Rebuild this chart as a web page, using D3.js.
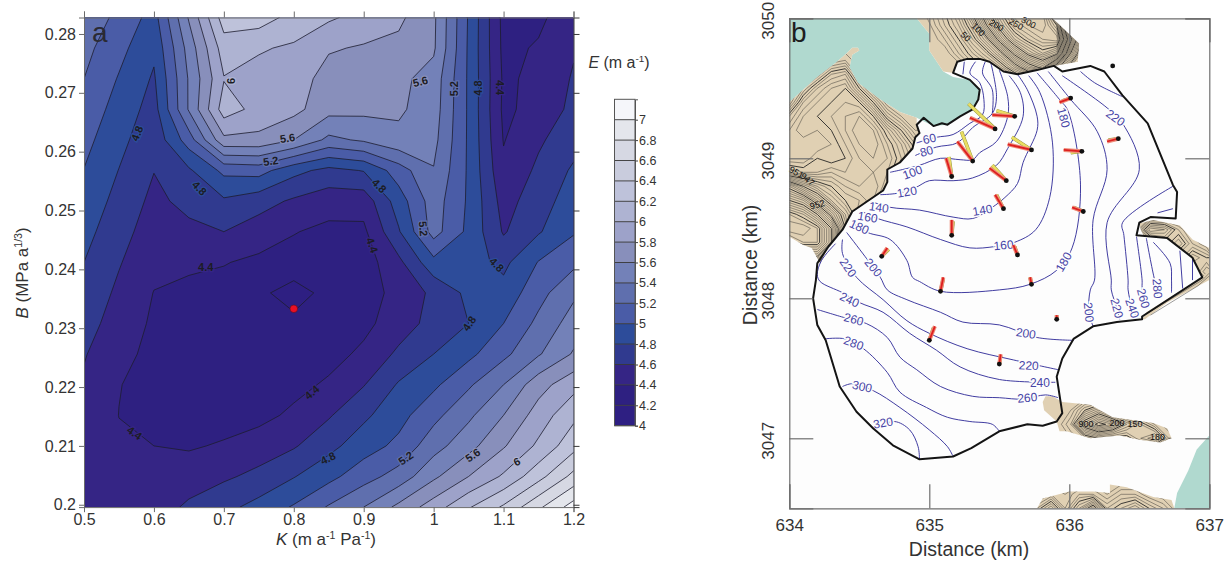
<!DOCTYPE html>
<html>
<head>
<meta charset="utf-8">
<style>
body { margin: 0; background: #fff; }
text { font-family: "Liberation Sans", Arial, sans-serif; }
</style>
<script src="https://cdn.jsdelivr.net/npm/d3@7"></script>
</head>
<body>
<div id="figure"></div>
<script>
'use strict';

// ---- panel a data ----
let kValues = [0.5, 0.55, 0.6, 0.65, 0.7, 0.75, 0.8, 0.85, 0.9, 0.95, 1, 1.05, 1.1, 1.15, 1.2];
let bValues = [0.2828, 0.2776, 0.2724, 0.2672, 0.262, 0.2568, 0.2516, 0.2464, 0.2412, 0.236, 0.2308, 0.2256, 0.2204, 0.2152, 0.21, 0.2048, 0.1996];
// one list per K, top B to bottom B
let misfitByK = [
    [5.33, 5.26, 5.2, 5.13, 5.06, 4.995, 4.93, 4.865, 4.8, 4.74, 4.68, 4.615, 4.57, 4.53, 4.5, 4.48, 4.46],
    [5.15, 5.06, 4.985, 4.92, 4.86, 4.795, 4.735, 4.675, 4.615, 4.56, 4.51, 4.455, 4.405, 4.398, 4.42, 4.44, 4.46],
    [4.92, 4.84, 4.775, 4.72, 4.66, 4.605, 4.55, 4.5, 4.45, 4.395, 4.37, 4.35, 4.35, 4.37, 4.4, 4.45, 4.5],
    [5.62, 5.48, 5.42, 5.42, 5.1, 4.77, 4.66, 4.55, 4.43, 4.36, 4.32, 4.29, 4.28, 4.3, 4.38, 4.5, 4.636],
    [6.3, 6.1, 5.99, 6.1, 5.75, 5.05, 4.77, 4.6, 4.41, 4.33, 4.28, 4.26, 4.27, 4.32, 4.42, 4.57, 4.74],
    [6.3, 6.02, 5.93, 5.93, 5.75, 5.08, 4.68, 4.5, 4.36, 4.24, 4.27, 4.25, 4.27, 4.34, 4.5, 4.65, 4.87],
    [6.13, 5.97, 5.9, 5.86, 5.6, 4.86, 4.57, 4.41, 4.32, 4.12, 4.25, 4.28, 4.34, 4.44, 4.58, 4.79, 5.02],
    [6.03, 5.82, 5.72, 5.67, 5.35, 4.74, 4.49, 4.35, 4.3, 4.26, 4.28, 4.33, 4.43, 4.58, 4.74, 4.94, 5.22],
    [5.93, 5.78, 5.72, 5.65, 5.43, 4.81, 4.48, 4.36, 4.3, 4.3, 4.35, 4.44, 4.59, 4.76, 4.91, 5.12, 5.4],
    [5.84, 5.75, 5.65, 5.63, 5.55, 5.1, 4.9, 4.78, 4.55, 4.47, 4.5, 4.64, 4.82, 4.93, 5.05, 5.28, 5.65],
    [5.64, 5.63, 5.52, 5.5, 5.46, 5.39, 5.3, 5.28, 4.94, 4.64, 4.67, 4.8, 4.96, 5.14, 5.32, 5.56, 5.9],
    [4.98, 4.97, 4.97, 4.97, 4.97, 4.97, 4.97, 4.95, 4.88, 4.85, 4.8, 4.95, 5.17, 5.36, 5.53, 5.8, 6.18],
    [4.34, 4.35, 4.37, 4.36, 4.39, 4.44, 4.52, 4.58, 4.75, 4.87, 5, 5.15, 5.4, 5.6, 5.78, 6.03, 6.43],
    [4.36, 4.42, 4.44, 4.47, 4.57, 4.64, 4.71, 4.78, 5.01, 5.13, 5.25, 5.38, 5.72, 5.89, 6.04, 6.33, 6.76],
    [4.52, 4.58, 4.62, 4.65, 4.72, 4.83, 4.9, 4.98, 5.15, 5.36, 5.49, 5.62, 5.93, 6.15, 6.33, 6.66, 7.09]
];
let misfitLevels = [4, 4.2, 4.4, 4.6, 4.8, 5, 5.2, 5.4, 5.6, 5.8, 6, 6.2, 6.4, 6.6, 6.8, 7];
let bandColors = ['#2e1f82', '#2e2081', '#352585', '#303a8f', '#2d4c9a', '#4a5ca7', '#5f6fae', '#7381b8',
    '#888fbb', '#9da2c9', '#aeb3d2', '#bec2da', '#c9ccdd', '#d6d8e3', '#e4e6ec', '#f5f6fa'];
let kTicks = [0.5, 0.6, 0.7, 0.8, 0.9, 1, 1.1, 1.2];
let bTicks = [0.2, 0.21, 0.22, 0.23, 0.24, 0.25, 0.26, 0.27, 0.28];
let bestFit = { k: 0.8, b: 0.2333 };
// [K, B, level, angle]
let misfitLabels = [
    [0.576, 0.2631, 4.8, -68], [0.665, 0.2538, 4.8, 45], [0.71, 0.2720, 6, -90], [0.791, 0.2623, 5.6, -8],
    [0.767, 0.2584, 5.2, -8], [0.981, 0.2719, 5.6, -15], [1.03, 0.2707, 5.2, -90], [1.063, 0.2708, 4.8, -90],
    [1.095, 0.2709, 4.4, 90], [0.922, 0.2542, 4.8, 45], [0.985, 0.2469, 5.2, 85], [0.912, 0.2441, 4.4, 70],
    [1.09, 0.2408, 4.8, 45], [0.674, 0.2403, 4.4, 0], [0.572, 0.2122, 4.4, 35], [0.826, 0.2191, 4.4, -40],
    [0.849, 0.2079, 4.8, -25], [1.051, 0.2308, 4.8, -55], [0.96, 0.2079, 5.2, -35], [1.056, 0.2084, 5.6, -35],
    [1.119, 0.2073, 6, -25]
];

// ---- panel b data: km east of 634, km north of 3047 ----
let eastTicks = [634, 635, 636, 637];
let northTicks = [3047, 3048, 3049, 3050];
let glacierOutline = [[1.17, 2.61], [1.2, 2.69], [1.27, 2.71], [1.36, 2.71], [1.43, 2.69], [1.53, 2.62], [1.63, 2.6], [1.77, 2.63], [1.89, 2.66], [1.95, 2.62], [2.15, 2.66], [2.25, 2.62], [2.38, 2.45], [2.56, 2.25], [2.74, 1.81], [2.77, 1.76], [2.76, 1.57], [2.58, 1.58], [2.5, 1.54], [2.48, 1.45], [2.7, 1.43], [2.88, 1.29], [2.95, 1.15], [2.52, 0.87], [2.52, 0.85], [2.34, 0.83], [2.17, 0.8], [2.03, 0.71], [1.95, 0.57], [1.91, 0.44], [1.95, 0.18], [1.91, 0.12], [1.81, 0.09], [1.7, 0.1], [1.5, 0.05], [1.3, -0.07], [1.17, -0.13], [0.93, -0.15], [0.74, -0.05], [0.6, 0.07], [0.48, 0.19], [0.36, 0.37], [0.26, 0.7], [0.2, 0.81], [0.17, 1], [0.19, 1.13], [0.2, 1.25], [0.28, 1.37], [0.38, 1.49], [0.45, 1.62], [0.67, 1.77], [0.7, 1.83], [0.7, 1.92], [0.79, 1.97], [0.88, 2.07], [0.9, 2.15], [0.93, 2.18], [0.91, 2.24], [0.96, 2.29], [1.03, 2.23], [1.09, 2.25], [1.13, 2.24], [1.22, 2.3], [1.31, 2.35], [1.35, 2.42], [1.36, 2.49], [1.29, 2.56]];
let waterNorth = [[0, 2.4], [0.2, 2.58], [0.33, 2.68], [0.41, 2.75], [0.45, 2.79], [0.49, 2.79], [0.5, 2.77], [0.45, 2.74], [0.43, 2.65], [0.49, 2.54], [0.65, 2.42], [0.79, 2.33], [0.91, 2.29], [0.97, 2.26], [1.03, 2.23], [1.13, 2.24], [1.22, 2.3], [1.31, 2.35], [1.35, 2.42], [1.36, 2.49], [1.29, 2.56], [1.17, 2.58], [1.1, 2.62], [1, 2.77], [1, 2.89], [0.91, 3], [0, 3]];
let waterSouth = [[3, 0.02], [2.91, -0.08], [2.85, -0.23], [2.77, -0.39], [2.75, -0.5], [3, -0.5]];
let rockWest = [[0, 2.4], [0.2, 2.58], [0.33, 2.68], [0.41, 2.75], [0.45, 2.79], [0.49, 2.79], [0.5, 2.77], [0.45, 2.74], [0.43, 2.65], [0.49, 2.54], [0.65, 2.42], [0.79, 2.33], [0.91, 2.29], [0.91, 2.24], [0.93, 2.18], [0.9, 2.15], [0.88, 2.07], [0.79, 1.97], [0.7, 1.92], [0.7, 1.83], [0.67, 1.77], [0.45, 1.62], [0.38, 1.49], [0.28, 1.37], [0.22, 1.25], [0.16, 1.36], [0.1, 1.38], [0, 1.44]];
let rockNorth = [[0.91, 3], [1, 2.89], [1, 2.77], [1.1, 2.62], [1.17, 2.61], [1.2, 2.69], [1.27, 2.71], [1.36, 2.71], [1.43, 2.69], [1.53, 2.62], [1.63, 2.6], [1.77, 2.63], [1.89, 2.66], [2.06, 2.69], [2.07, 2.82], [1.88, 3]];
let rockEast = [[2.5, 1.54], [2.52, 1.54], [2.6, 1.56], [2.79, 1.52], [2.88, 1.42], [3, 1.36], [3, 1.15], [2.95, 1.15], [2.88, 1.29], [2.7, 1.43], [2.53, 1.45], [2.51, 1.49]];
let rockStrip = [[2.52, 0.85], [2.55, 0.9], [2.95, 1.15], [3, 1.2], [3, 1.13], [2.7, 0.97], [2.54, 0.85]];
let rockIsland = [[1.81, 0.26], [1.83, 0.3], [1.88, 0.3], [1.95, 0.26], [2.15, 0.24], [2.31, 0.15], [2.6, 0.11], [2.7, 0.07], [2.73, 0], [2.65, -0.03], [2.5, -0.01], [2.36, 0.02], [2.15, 0], [1.98, 0.05], [1.93, 0.05], [1.91, 0.12], [1.82, 0.2]];
let rockSouth = [[1.77, -0.5], [1.81, -0.43], [2, -0.38], [2.17, -0.38], [2.29, -0.39], [2.29, -0.33], [2.41, -0.35], [2.6, -0.42], [2.73, -0.44], [2.75, -0.5]];

// rough relief on a 0.1 km grid, read off the contour spacing
let reliefWest = { east: 0, north: 2.8, rows: [
    [0, 0, 0, 0, 0, 0, 0, 0, 0, 0],
    [0, 0, 0, 1, 2, 0, 0, 0, 0, 0],
    [0, 0, 2, 6, 7, 1, 0, 0, 0, 0],
    [0, 3, 7, 9, 10, 5, 0, 0, 0, 0],
    [1, 7, 9, 10, 11, 10, 5, 0, 0, 0],
    [6, 9, 10, 11, 12, 13, 10, 4, 1, 0],
    [8, 10, 9, 10, 12, 14, 13, 9, 5, 1],
    [9, 8, 8, 9, 11, 13, 14, 11, 8, 4],
    [8, 8, 10, 9, 10, 12, 13, 12, 9, 6],
    [12, 11, 11, 12, 11, 11, 12, 11, 8, 3],
    [24, 20, 17, 15, 13, 12, 13, 10, 6, 2],
    [30, 28, 23, 18, 15, 14, 12, 8, 3, 0],
    [36, 34, 30, 24, 18, 13, 9, 3, 0, 0],
    [38, 38, 36, 30, 20, 11, 4, 0, 0, 0],
    [34, 36, 36, 30, 18, 6, 0, 0, 0, 0],
    [25, 30, 30, 22, 8, 0, 0, 0, 0, 0],
    [10, 20, 20, 10, 0, 0, 0, 0, 0, 0]
] };
let reliefNorth = { east: 0.91, north: 3.05, rows: [
    [0, 2, 5, 9, 16, 24, 30, 34, 36, 34, 20, 4, 0],
    [0, 1, 4, 7, 12, 20, 27, 32, 34, 35, 30, 10, 0],
    [0, 0, 2, 5, 9, 14, 22, 28, 31, 33, 34, 16, 2],
    [0, 0, 0, 3, 6, 9, 14, 21, 26, 29, 26, 10, 0],
    [0, 0, 0, 0, 3, 5, 8, 13, 18, 21, 12, 3, 0],
    [0, 0, 0, 0, 0, 0, 2, 5, 8, 8, 3, 0, 0]
] };
let reliefEast = { east: 2.48, north: 1.59, rows: [
    [0, 0, 0, 0, 0, 0],
    [0, 9, 8, 4, 1, 0],
    [0, 1, 4, 7, 3, 1],
    [0, 0, 0, 3, 7, 5],
    [0, 0, 0, 0, 4, 8],
    [0, 0, 0, 0, 0, 4]
] };
let reliefIsland = { east: 1.81, north: 0.3, rows: [
    [0, 0, 0, 0, 0, 0, 0, 0, 0, 0],
    [0, 0, 1, 5, 8, 4, 1, 0, 0, 0],
    [0, 0, 3, 12, 16, 14, 9, 6, 3, 1],
    [0, 0, 1, 3, 5, 4, 4, 7, 9, 3],
    [0, 0, 0, 0, 0, 0, 0, 0, 0, 0]
] };
let reliefSouth = { east: 1.77, north: -0.3, rows: [
    [0, 0, 0, 0, 0, 0, 0, 0, 0, 0, 0],
    [0, 2, 1, 3, 3, 1, 3, 3, 1, 0, 0],
    [4, 8, 2, 7, 12, 4, 6, 8, 5, 3, 0],
    [6, 10, 3, 9, 14, 5, 8, 10, 7, 4, 0]
] };
let stripLines = [
    [[2.55, 0.89], [2.95, 1.13], [3, 1.18]],
    [[2.58, 0.88], [2.92, 1.09], [3, 1.16]]
];

let iceContours = [
    [[1.24, 2.6], [1.25, 2.69]],
    [[0.91, 2.11], [1.05, 2.15], [1.17, 2.17], [1.29, 2.25], [1.38, 2.31], [1.39, 2.42], [1.36, 2.54], [1.29, 2.61], [1.33, 2.69]],
    [[1.4, 2.69], [1.38, 2.61], [1.45, 2.49], [1.45, 2.32]],
    [[0.9, 2.02], [1.05, 2.08], [1.2, 2.11], [1.31, 2.22], [1.45, 2.32], [1.48, 2.44], [1.44, 2.68]],
    [[0.72, 1.9], [0.81, 1.92], [0.93, 1.95], [1.08, 2], [1.22, 1.99], [1.31, 1.99], [1.36, 2.04], [1.48, 2.12], [1.56, 2.3], [1.56, 2.44], [1.5, 2.63]],
    [[0.65, 1.74], [0.77, 1.75], [0.9, 1.79], [1, 1.84], [1.17, 1.84], [1.31, 1.86], [1.48, 1.95], [1.56, 2.07], [1.67, 2.3], [1.65, 2.47], [1.57, 2.59]],
    [[0.59, 1.69], [0.72, 1.65], [0.93, 1.63], [1.17, 1.58], [1.31, 1.57], [1.45, 1.65], [1.54, 1.72], [1.63, 1.82], [1.67, 1.97], [1.77, 2.2], [1.77, 2.3], [1.7, 2.49], [1.63, 2.6]],
    [[0.52, 1.62], [0.63, 1.57], [0.84, 1.51], [1.08, 1.42], [1.29, 1.36], [1.47, 1.37], [1.61, 1.4], [1.76, 1.49], [1.86, 1.72], [1.88, 2.11], [1.79, 2.47], [1.71, 2.59]],
    [[0.45, 1.54], [0.56, 1.47], [0.72, 1.42], [0.84, 1.27], [0.88, 1.15], [0.93, 1.12], [1.08, 1.05], [1.5, 1.06], [1.72, 1.1], [1.91, 1.2], [2.02, 1.36], [2.08, 1.81], [1.99, 2.34], [1.93, 2.42], [1.77, 2.61]],
    [[0.41, 1.47], [0.54, 1.3], [0.65, 1.15], [0.7, 1.06], [0.84, 0.99], [1.08, 0.9], [1.24, 0.83], [1.5, 0.81], [1.77, 0.72], [2.03, 0.7]],
    [[1.85, 2.62], [2.01, 2.42], [2.2, 2.19], [2.27, 1.92], [2.17, 1.56], [2.18, 1.13], [2.15, 1.06], [2.14, 0.9], [2.17, 0.8]],
    [[0.38, 1.42], [0.38, 1.32], [0.48, 1.15], [0.67, 0.99], [0.84, 0.84], [1, 0.75], [1.27, 0.64], [1.6, 0.56], [1.92, 0.49]],
    [[1.95, 2.59], [2.27, 2.36], [2.38, 2.25], [2.5, 1.92], [2.27, 1.54], [2.3, 1.13], [2.3, 1.06], [2.34, 0.93], [2.36, 0.85]],
    [[0.33, 1.39], [0.23, 1.27], [0.2, 1.17], [0.22, 1.12], [0.38, 1.04], [0.5, 0.97], [0.67, 0.9], [0.86, 0.75], [1.05, 0.63], [1.22, 0.51], [1.5, 0.42], [1.9, 0.4]],
    [[2.74, 1.8], [2.38, 1.54], [2.39, 1.45], [2.42, 1.13], [2.42, 1.06], [2.45, 0.93], [2.48, 0.87]],
    [[2.08, 2.62], [2.18, 2.54], [2.38, 2.44]],
    [[0.2, 0.92], [0.4, 0.86], [0.55, 0.82], [0.7, 0.72], [0.79, 0.58], [0.91, 0.49], [1.08, 0.37], [1.31, 0.3], [1.5, 0.29], [1.67, 0.28], [1.83, 0.31], [1.92, 0.29]],
    [[2.74, 1.64], [2.63, 1.61]],
    [[2.48, 1.44], [2.52, 1.13], [2.52, 1.08], [2.53, 1], [2.56, 0.95]],
    [[0.25, 0.71], [0.4, 0.71], [0.53, 0.64], [0.7, 0.47], [0.79, 0.33], [0.98, 0.22], [1.13, 0.15], [1.29, 0.12], [1.45, 0.1], [1.5, 0.05]],
    [[2.55, 1.43], [2.61, 1.13], [2.63, 1.07], [2.63, 1.02]],
    [[2.6, 1.4], [2.72, 1.25], [2.73, 1.13], [2.73, 1.04]],
    [[2.79, 1.34], [2.81, 1.07]],
    [[2.88, 1.29], [2.88, 1.13]],
    [[0.38, 0.37], [0.45, 0.39], [0.6, 0.34], [0.79, 0.22], [1, 0.06], [1.13, -0.06], [1.17, -0.13]],
    [[0.61, 0.07], [0.75, 0.12], [0.86, 0.06], [0.92, -0.06], [0.93, -0.15]]
];
// [east, north, label, angle]
let iceLabels = [
    [1, 2.14, '60', -12], [0.98, 2.05, '80', -15], [0.88, 1.9, '100', -20], [0.84, 1.76, '120', -10],
    [0.64, 1.65, '140', 8], [0.56, 1.58, '160', 10], [0.5, 1.51, '180', 25], [0.6, 1.22, '200', 50],
    [0.42, 1.22, '220', 55], [0.43, 0.99, '240', 25], [0.46, 0.85, '260', 15], [0.46, 0.68, '280', 20],
    [0.52, 0.37, '300', 12], [0.67, 0.11, '320', -10], [1.38, 1.63, '140', -10], [1.53, 1.38, '160', -5],
    [1.96, 2.29, '180', 75], [2.33, 2.29, '220', 35], [1.96, 1.26, '180', -60], [2.14, 0.9, '200', 85],
    [2.34, 0.93, '220', 75], [2.45, 0.93, '240', 70], [2.53, 1, '260', 75], [2.63, 1.07, '280', 85],
    [1.69, 0.75, '200', 8], [1.71, 0.52, '220', 3], [1.79, 0.4, '240', 0], [1.7, 0.29, '260', -5]
];
let rockLabels = [
    [0.05, 1.9, '951', 30], [0.13, 1.85, '947', 40], [0.2, 1.67, '952', -15],
    [1.26, 2.87, '50', 45], [1.35, 2.92, '100', 45], [1.48, 2.95, '200', 30], [1.62, 2.96, '250', 30], [1.71, 2.97, '300', 30],
    [2.12, 0.1, '900', 0], [2.34, 0.11, '200', 0], [2.47, 0.1, '150', 0], [2.63, 0.01, '180', 0]
];
// station position, then the tips of the modelled and the measured velocity
let stationEast = [1.47, 1.31, 1.16, 1.16, 0.66, 1.61, 1.73, 1.55, 1.53, 1.63, 2.01, 2.35, 2.09, 2.1, 2.31, 1.08, 1, 1.5, 1.73, 1.91];
let stationNorth = [2.21, 1.98, 1.87, 1.45, 1.3, 2.3, 2.06, 1.84, 1.64, 1.31, 2.43, 2.14, 2.05, 1.62, 2.66, 1.05, 0.7, 0.53, 1.1, 0.85];
let modelTipEast = [1.29, 1.2, 1.12, 1.16, 0.7, 1.45, 1.56, 1.43, 1.47, 1.6, 1.93, 2.27, 1.96, 2.02, 2.31, 1.1, 1.04, 1.51, 1.72, 1.91];
let modelTipNorth = [2.29, 2.12, 2, 1.56, 1.36, 2.31, 2.1, 1.93, 1.74, 1.38, 2.4, 2.12, 2.06, 1.65, 2.66, 1.15, 0.8, 0.6, 1.15, 0.88];
let measuredTipEast = [1.28, 1.23, 1.14, 1.17, 0.71, 1.48, 1.59, 1.45, 1.48, 1.61, 1.95, 2.28, 2.01, 2.03, 2.31, 1.1, 1.03, 1.51, 1.72, 1.91];
let measuredTipNorth = [2.39, 2.19, 2.01, 1.55, 1.35, 2.34, 2.15, 1.95, 1.74, 1.37, 2.41, 2.13, 2.04, 1.65, 2.66, 1.14, 0.79, 0.59, 1.15, 0.88];

// ---- figure ----
let svg = d3.select('#figure').append('svg')
    .attr('width', 1227)
    .attr('height', 562)
    .style('display', 'block');
let defs = svg.append('defs');

let inkGrey = '#333';

function styleAxis(g, color, width) {
    g.selectAll('.domain').attr('stroke', color).attr('stroke-width', width);
    g.selectAll('.tick line').attr('stroke', color).attr('stroke-width', width);
    g.selectAll('text').attr('fill', inkGrey).style('font-family', '"Liberation Sans", Arial, sans-serif');
}

// rich label with optional superscripts: [text, 'i' | 'sup' | '']
function richText(parent, x, y, size, parts, rotate) {
    let t = parent.append('text')
        .attr('transform', `translate(${x},${y})` + (rotate ? ` rotate(${rotate})` : ''))
        .attr('text-anchor', 'middle')
        .attr('fill', inkGrey)
        .attr('font-size', size);
    parts.forEach(p => {
        let s = t.append('tspan').text(p[0]);
        if (p[1] === 'i') s.attr('font-style', 'italic');
        if (p[1] === 'sup') s.attr('font-size', size * 0.62).attr('dy', -size * 0.38);
        if (p[1] === 'after') s.attr('dy', size * 0.38);
    });
    return t;
}

// ---- panel a ----
let xK = d3.scaleLinear().domain([0.5, 1.2]).range([84, 573.5]);
let yB = d3.scaleLinear().domain([bValues[16], bValues[0]]).range([507.1, 17.5]);
let bandColor = d3.scaleThreshold().domain(misfitLevels.slice(1).concat([7.2])).range(bandColors);

defs.append('clipPath').attr('id', 'clip-a').append('rect')
    .attr('x', xK.range()[0]).attr('y', yB.range()[1])
    .attr('width', xK.range()[1] - xK.range()[0])
    .attr('height', yB.range()[0] - yB.range()[1]);

let panelA = svg.append('g');
let stepK = kValues[1] - kValues[0];
let stepB = bValues[0] - bValues[1];
let contourPathA = d3.geoPath(d3.geoTransform({
    point(cx, cy) {
        this.stream.point(xK(kValues[0] + (cx - 0.5) * stepK), yB(bValues[0] - (cy - 0.5) * stepB));
    }
}));
let misfitGrid = d3.contours()
    .size([kValues.length, bValues.length])
    .thresholds(misfitLevels)(d3.transpose(misfitByK).flat());

panelA.append('g').attr('clip-path', 'url(#clip-a)')
    .selectAll('path')
    .data(misfitGrid)
    .join('path')
    .attr('d', contourPathA)
    .attr('fill', d => bandColor(d.value))
    .attr('stroke', d => d.value === misfitLevels[0] ? 'none' : '#1d1d2e')
    .attr('stroke-width', 0.8);

panelA.append('g')
    .selectAll('text')
    .data(misfitLabels)
    .join('text')
    .attr('transform', d => `translate(${xK(d[0])},${yB(d[1])}) rotate(${d[3]})`)
    .attr('text-anchor', 'middle')
    .attr('dy', '0.35em')
    .attr('font-size', 11)
    .attr('font-weight', 'bold')
    .attr('fill', '#1c1c24')
    .attr('stroke', d => bandColor(d[2] + 0.01))
    .attr('stroke-width', 2.5)
    .attr('paint-order', 'stroke')
    .text(d => d[2]);

panelA.append('circle')
    .attr('cx', xK(bestFit.k))
    .attr('cy', yB(bestFit.b))
    .attr('r', 3.8)
    .attr('fill', '#ea0f24')
    .attr('stroke', '#5a1020')
    .attr('stroke-width', 0.6);

let axisColorA = '#6a6a6a';
panelA.append('g').attr('transform', `translate(0,${yB.range()[0]})`)
    .call(d3.axisBottom(xK).tickValues(kTicks).tickFormat(d3.format('~g')).tickSize(5).tickPadding(2))
    .attr('font-size', 16).call(styleAxis, axisColorA, 1);
panelA.append('g').attr('transform', `translate(${xK.range()[0]},0)`)
    .call(d3.axisLeft(yB).tickValues(bTicks).tickFormat(d3.format('~g')).tickSize(5).tickPadding(3))
    .attr('font-size', 16).call(styleAxis, axisColorA, 1);
panelA.append('g').attr('transform', `translate(0,${yB.range()[1]})`)
    .call(d3.axisTop(xK).tickValues(kTicks).tickFormat('').tickSize(6))
    .call(styleAxis, axisColorA, 1);
panelA.append('g').attr('transform', `translate(${xK.range()[1]},0)`)
    .call(d3.axisRight(yB).tickValues(bTicks).tickFormat('').tickSize(6))
    .call(styleAxis, '#3a3a3a', 1);

richText(panelA, 326, 545, 17, [['K', 'i'], [' (m a', ''], ['-1', 'sup'], [' Pa', 'after'], ['-1', 'sup'], [')', 'after']]);
richText(panelA, 28, 273, 17, [['B', 'i'], [' (MPa a', ''], ['1/3', 'sup'], [')', 'after']], -90);
richText(panelA, 619, 68, 16, [['E', 'i'], [' (m a', ''], ['-1', 'sup'], [')', 'after']]);
panelA.append('text').attr('x', 92).attr('y', 42).attr('font-size', 28).attr('fill', '#2a2a33').text('a');

// colour bar
let yBar = d3.scaleLinear().domain([4, 7.2]).range([425.7, 99.3]);
let legend = panelA.append('g').attr('transform', 'translate(614.5,0)');
legend.selectAll('rect')
    .data(misfitLevels)
    .join('rect')
    .attr('x', 0)
    .attr('width', 20.5)
    .attr('y', (d, i) => yBar(d + 0.2))
    .attr('height', (d, i) => yBar(d) - yBar(d + 0.2))
    .attr('fill', (d, i) => bandColors[i]);
let legendAxis = d3.axisRight(yBar).tickValues(misfitLevels).tickFormat(d3.format('~g')).tickSize(3).tickPadding(1);
let legendAxisG = legend.append('g').attr('transform', 'translate(20.5,0)')
    .call(legendAxis)
    .attr('font-size', 12.5)
    .call(styleAxis, '#444', 1);
legendAxisG.select('.domain').attr('stroke', '#555');
legend.selectAll('line.band')
    .data(misfitLevels)
    .join('line')
    .classed('band', true)
    .attr('x1', 0).attr('x2', 20.5)
    .attr('y1', d => yBar(d)).attr('y2', d => yBar(d))
    .attr('stroke', '#333')
    .attr('stroke-width', 0.9);
legend.append('rect')
    .attr('x', 0).attr('y', yBar(7.2))
    .attr('width', 20.5).attr('height', yBar(4) - yBar(7.2))
    .attr('fill', 'none').attr('stroke', '#555').attr('stroke-width', 1);

// ---- panel b ----
let xEast = d3.scaleLinear().domain([634, 637]).range([789.3, 1209.3]);
let yNorth = d3.scaleLinear().domain([3046.5, 3050]).range([508.3, 18.3]);
let panelB = svg.append('g');
let mapX = e => xEast(634 + e);
let mapY = n => yNorth(3047 + n);
let mapLine = d3.line().x(d => mapX(d[0])).y(d => mapY(d[1]));
let mapCurve = d3.line().x(d => mapX(d[0])).y(d => mapY(d[1])).curve(d3.curveCatmullRom.alpha(0.5));
let closedCurve = d3.line().x(d => mapX(d[0])).y(d => mapY(d[1])).curve(d3.curveLinearClosed);

panelB.append('rect')
    .attr('x', xEast.range()[0]).attr('y', yNorth.range()[1])
    .attr('width', xEast.range()[1] - xEast.range()[0])
    .attr('height', yNorth.range()[0] - yNorth.range()[1])
    .attr('fill', '#fdfdfd');

panelB.selectAll('path.water')
    .data([waterNorth, waterSouth])
    .join('path')
    .classed('water', true)
    .attr('d', closedCurve)
    .attr('fill', '#b0d9cf');

let rocks = [
    { outline: rockWest, relief: reliefWest },
    { outline: rockNorth, relief: reliefNorth },
    { outline: rockEast, relief: reliefEast },
    { outline: rockIsland, relief: reliefIsland },
    { outline: rockSouth, relief: reliefSouth }
];
rocks.forEach((rock, i) => {
    let clipId = `rock-${i}`;
    defs.append('clipPath').attr('id', clipId).append('path').attr('d', closedCurve(rock.outline));
    panelB.append('path').attr('d', closedCurve(rock.outline)).attr('fill', '#e0d0b3');

    let rows = rock.relief.rows;
    let levels = d3.range(1, d3.max(rows.flat()) + 1);
    let reliefPath = d3.geoPath(d3.geoTransform({
        point(cx, cy) {
            this.stream.point(mapX(rock.relief.east + (cx - 0.5) * 0.1), mapY(rock.relief.north - (cy - 0.5) * 0.1));
        }
    }));
    panelB.append('g').attr('clip-path', `url(#${clipId})`)
        .selectAll('path')
        .data(d3.contours().size([rows[0].length, rows.length]).thresholds(levels)(rows.flat()))
        .join('path')
        .attr('d', reliefPath)
        .attr('fill', 'none')
        .attr('stroke', '#3c3a36')
        .attr('stroke-width', d => d.value % 5 === 0 ? 1 : 0.5);
});

panelB.append('path').attr('d', closedCurve(rockStrip)).attr('fill', '#e0d0b3');
panelB.selectAll('path.strip')
    .data(stripLines)
    .join('path')
    .classed('strip', true)
    .attr('d', mapLine)
    .attr('fill', 'none')
    .attr('stroke', '#3c3a36')
    .attr('stroke-width', 0.5);

panelB.selectAll('text.rock')
    .data(rockLabels)
    .join('text')
    .classed('rock', true)
    .attr('transform', d => `translate(${mapX(d[0])},${mapY(d[1])}) rotate(${d[3]})`)
    .attr('text-anchor', 'middle')
    .attr('dy', '0.35em')
    .attr('font-size', 9)
    .attr('fill', '#111')
    .text(d => d[2]);

// ice thickness contours
panelB.selectAll('path.ice')
    .data(iceContours)
    .join('path')
    .classed('ice', true)
    .attr('d', mapCurve)
    .attr('fill', 'none')
    .attr('stroke', '#2b2796')
    .attr('stroke-width', 0.9);

panelB.selectAll('text.ice')
    .data(iceLabels)
    .join('text')
    .classed('ice', true)
    .attr('transform', d => `translate(${mapX(d[0])},${mapY(d[1])}) rotate(${d[3]})`)
    .attr('text-anchor', 'middle')
    .attr('dy', '0.35em')
    .attr('font-size', 12)
    .attr('fill', '#4744a6')
    .attr('stroke', '#fdfdfd')
    .attr('stroke-width', 3)
    .attr('paint-order', 'stroke')
    .text(d => d[2]);

panelB.append('path')
    .attr('d', closedCurve(glacierOutline))
    .attr('fill', 'none')
    .attr('stroke', '#141414')
    .attr('stroke-width', 2)
    .attr('stroke-linejoin', 'round');

// velocity vectors and stations
let stations = stationEast.map((e, i) => ({
    from: [e, stationNorth[i]],
    model: [modelTipEast[i], modelTipNorth[i]],
    measured: [measuredTipEast[i], measuredTipNorth[i]]
}));
let stationG = panelB.append('g');
stationG.selectAll('path.measured-edge')
    .data(stations).join('path').classed('measured-edge', true)
    .attr('d', d => mapLine([d.from, d.measured]))
    .attr('stroke', '#8c8a3c').attr('stroke-width', 3.6);
stationG.selectAll('path.measured')
    .data(stations).join('path').classed('measured', true)
    .attr('d', d => mapLine([d.from, d.measured]))
    .attr('stroke', '#e9de62').attr('stroke-width', 2.8);
stationG.selectAll('path.model-halo')
    .data(stations).join('path').classed('model-halo', true)
    .attr('d', d => mapLine([d.from, d.model]))
    .attr('stroke', '#ee8c7a').attr('stroke-width', 4);
stationG.selectAll('path.model')
    .data(stations).join('path').classed('model', true)
    .attr('d', d => mapLine([d.from, d.model]))
    .attr('stroke', '#dd1f1f').attr('stroke-width', 1.8);
stationG.selectAll('circle')
    .data(stations).join('circle')
    .attr('cx', d => mapX(d.from[0]))
    .attr('cy', d => mapY(d.from[1]))
    .attr('r', 2.4)
    .attr('fill', '#111');

// axes, ticks point inside
let axisColorB = '#6e6e6e';
let tickIn = 24;
let narrowFont = '"Liberation Sans Narrow", "Liberation Sans", Arial, sans-serif';
let bottomB = panelB.append('g').attr('transform', `translate(0,${yNorth.range()[0]})`)
    .call(d3.axisBottom(xEast).tickValues(eastTicks).tickFormat(d3.format('d')).tickSize(-tickIn).tickPadding(11))
    .attr('font-size', 17).call(styleAxis, axisColorB, 1.2);
bottomB.selectAll('text').style('font-family', narrowFont);
let leftB = panelB.append('g').attr('transform', `translate(${xEast.range()[0]},0)`)
    .call(d3.axisLeft(yNorth).tickValues(northTicks).tickFormat(d3.format('d')).tickSize(-tickIn))
    .attr('font-size', 17).call(styleAxis, axisColorB, 1.2);
leftB.selectAll('text')
    .style('font-family', narrowFont)
    .attr('x', 0).attr('dy', '0.35em')
    .attr('text-anchor', 'middle')
    .attr('transform', 'translate(-21,2) rotate(-90)');
panelB.append('g').attr('transform', `translate(0,${yNorth.range()[1]})`)
    .call(d3.axisTop(xEast).tickValues(eastTicks).tickFormat('').tickSize(-tickIn))
    .call(styleAxis, axisColorB, 1.2);
panelB.append('g').attr('transform', `translate(${xEast.range()[1]},0)`)
    .call(d3.axisRight(yNorth).tickValues(northTicks).tickFormat('').tickSize(-tickIn))
    .call(styleAxis, axisColorB, 1.2);

richText(panelB, 969, 556, 19.5, [['Distance (km)', '']]);
richText(panelB, 757, 265, 19.5, [['Distance (km)', '']], -90);
panelB.append('text').attr('x', 791).attr('y', 42).attr('font-size', 28).attr('fill', '#1e1e1e').text('b');
</script>
</body>
</html>
